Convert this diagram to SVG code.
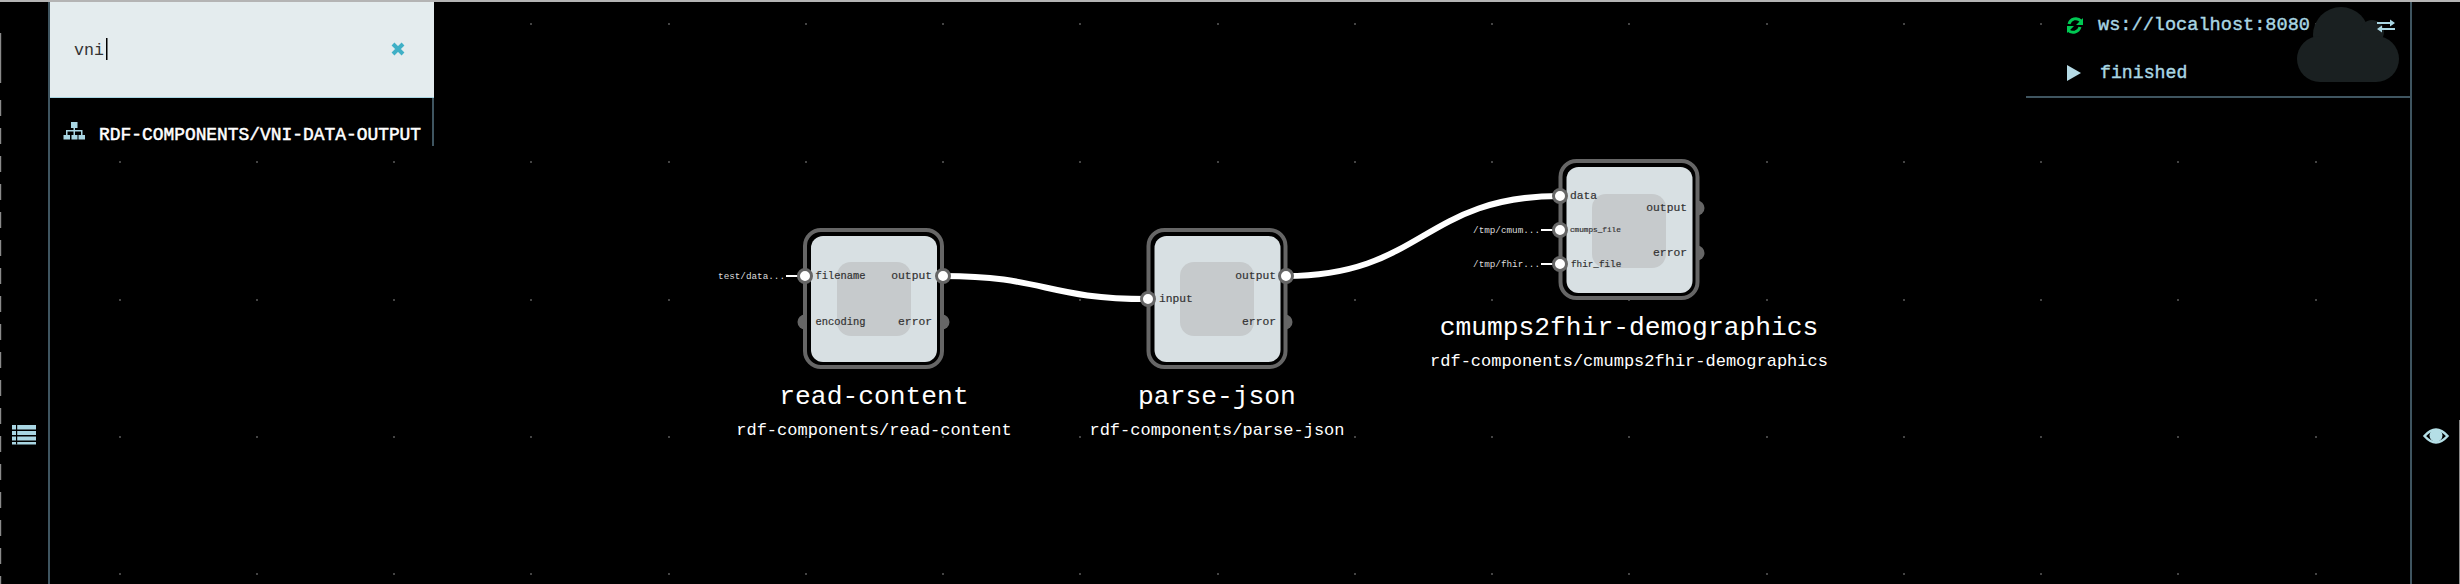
<svg xmlns="http://www.w3.org/2000/svg" width="2460" height="584" viewBox="0 0 2460 584">
<style>
text{font-family:"Liberation Mono","DejaVu Sans Mono",monospace}
.ring{fill:#000;stroke:#666;stroke-width:4}
.body{fill:#d8e0e3}
.core{fill:#c6cacc}
.off{fill:#666}
.pr{fill:#fff;stroke:#666;stroke-width:3}
.pl{fill:#333;font-size:11.3px;dominant-baseline:central;stroke:#333;stroke-width:.2}
.end{text-anchor:end}
.arg{fill:#ddd;font-size:9.3px;dominant-baseline:central;text-anchor:end}
.wire{fill:none;stroke:#fff;stroke-width:6}
.lit{fill:none;stroke:#fff;stroke-width:2}
.t{fill:#fff;font-size:26.3px;text-anchor:middle}
.s{fill:#fff;font-size:17px;text-anchor:middle}
.ui{fill:#a9d6e3}
.bar{fill:#3f5560}
.st{fill:#a9d6e3;font-size:18.6px;stroke:#a9d6e3;stroke-width:.4}
.edge{fill:#b4b4b4}
</style>
<defs>
<g id="dotrow">
<rect x="119" y="0" width="2" height="2"/><rect x="256" y="0" width="2" height="2"/><rect x="393" y="0" width="2" height="2"/><rect x="530" y="0" width="2" height="2"/><rect x="668" y="0" width="2" height="2"/><rect x="805" y="0" width="2" height="2"/><rect x="942" y="0" width="2" height="2"/><rect x="1079" y="0" width="2" height="2"/><rect x="1217" y="0" width="2" height="2"/><rect x="1354" y="0" width="2" height="2"/><rect x="1491" y="0" width="2" height="2"/><rect x="1628" y="0" width="2" height="2"/><rect x="1766" y="0" width="2" height="2"/><rect x="1903" y="0" width="2" height="2"/><rect x="2040" y="0" width="2" height="2"/><rect x="2177" y="0" width="2" height="2"/><rect x="2315" y="0" width="2" height="2"/>
</g>
</defs>
<rect width="2460" height="584" fill="#000"/>
<g id="grid" fill="#444">
<use href="#dotrow" y="23"/><use href="#dotrow" y="161"/><use href="#dotrow" y="299"/><use href="#dotrow" y="436"/><use href="#dotrow" y="573"/>
</g>
<g id="frame">
<rect class="edge" x="0" y="0" width="2460" height="2"/>
<path fill="none" stroke="#8a8a8a" stroke-width="1.200" stroke-dasharray="16 12" d="M.6 100V584"/>
<rect x="0" y="33" width="1.200" height="50" fill="#8a8a8a"/>
<rect x="2459" y="420" width="1" height="164" fill="#8a8a8a"/>
<rect class="bar" x="48" y="2" width="2" height="582"/>
<rect class="bar" x="2410" y="2" width="2" height="582"/>
<rect class="bar" x="2026" y="96" width="384" height="2"/>
<rect class="bar" x="432" y="98" width="2" height="48"/>
</g>
<g id="search">
<rect x="50" y="2" width="384" height="95" fill="#e4ecee"/>
<rect x="50" y="97" width="384" height="1" fill="#a9d6e3"/>
<text x="74" y="55" font-size="16.6" fill="#333">vni</text>
<rect x="106" y="38" width="1.5" height="22" fill="#000"/>
<path d="M393 44L403 54M403 44L393 54" stroke="#3fb0c6" stroke-width="4" fill="none"/>
</g>
<g id="result">
<path class="ui" d="M71 122h6.500v6h-2.500v2h7.500v5h-1.500v-3.500h-6v3.500h-1.500v-3.500h-6v3.500h-1.500v-5h7.500v-2h-2.500z"/>
<rect class="ui" x="63.500" y="135" width="6.500" height="4.500"/><rect class="ui" x="71.500" y="135" width="6" height="4.500"/><rect class="ui" x="78.500" y="135" width="6.500" height="4.500"/>
<text x="99" y="140" font-size="17.900" fill="#fff" stroke="#fff" stroke-width=".5">RDF-COMPONENTS/VNI-DATA-OUTPUT</text>
</g>
<g id="status">
<g fill="#1a2021">
<circle cx="2341" cy="35" r="28"/><circle cx="2372" cy="32" r="12"/><circle cx="2320" cy="59" r="23"/><circle cx="2376" cy="59" r="23"/><rect x="2320" y="36" width="56" height="46"/>
</g>
<path d="M2069 24a7 7 0 0 1 12-3M2080 27a7 7 0 0 1-12 3" fill="none" stroke="#00c853" stroke-width="3"/>
<path d="M2083 18v7h-7zM2067 33v-7h7z" fill="#00c853"/>
<text class="st" x="2098" y="30">ws://localhost:8080</text>
<path d="M2067 65l14 8-14 8z" fill="#b5dbe6"/>
<text class="st" x="2100" y="78" style="font-size:18.2px">finished</text>
<path class="ui" d="M2377 22h13v-2.500l5 3.500-5 3.500v-2.500h-13zM2395 28h-13v-2.500l-5 3.500 5 3.500v-2.500h13z"/>
</g>
<g id="list-toggle">
<path class="ui" d="M12 425h24v4.500h-24zM12 431h24v4h-24zM12 436.500h24v4h-24zM12 442h24v2.500h-24z"/>
<rect x="16" y="425" width="1.200" height="19.500" fill="#000"/>
</g>
<g id="eye-toggle">
<path d="M2424.500 436q11.500-13 23 0q-11.500 13-23 0z" fill="none" stroke="#b5dfe6" stroke-width="2.500"/>
<circle cx="2436" cy="435.500" r="6.500" fill="#b5dfe6"/>
</g>
<g id="connectors">
<path class="wire" d="M943 276C1045 276 1046 299 1148 299"/>
<path class="wire" d="M1286 276C1423 276 1423 196 1560 196"/>
<path class="lit" d="M786 276H805"/>
<path class="lit" d="M1541 230H1560"/>
<path class="lit" d="M1541 264H1560"/>
</g>
<g id="read-content">
<circle class="off" cx="805" cy="322" r="7.500"/><circle class="off" cx="942" cy="322" r="7.500"/>
<rect class="ring" x="805" y="230" width="137" height="137" rx="16"/>
<rect class="body" x="811" y="236" width="126" height="126" rx="12"/>
<rect class="core" x="837" y="262" width="74" height="74" rx="14"/>
<circle class="pr" cx="805" cy="276" r="6.500"/><circle class="pr" cx="943" cy="276" r="6.500"/>
<text class="arg" x="785" y="276">test/data...</text>
<text class="pl" x="815.500" y="276" style="font-size:10.400px">filename</text>
<text class="pl" x="815.500" y="322" style="font-size:10.400px">encoding</text>
<text class="pl end" x="932" y="276">output</text>
<text class="pl end" x="932" y="322">error</text>
<text class="t" x="874" y="404">read-content</text>
<text class="s" x="874" y="435">rdf-components/read-content</text>
</g>
<g id="parse-json">
<circle class="off" cx="1285" cy="322" r="7.500"/>
<rect class="ring" x="1148.500" y="230" width="137" height="137" rx="16"/>
<rect class="body" x="1154.500" y="236" width="126" height="126" rx="12"/>
<rect class="core" x="1180" y="262" width="74" height="74" rx="14"/>
<circle class="pr" cx="1148" cy="299" r="6.500"/><circle class="pr" cx="1286" cy="276" r="6.500"/>
<text class="pl" x="1159" y="299">input</text>
<text class="pl end" x="1276" y="276">output</text>
<text class="pl end" x="1276" y="322">error</text>
<text class="t" x="1217" y="404">parse-json</text>
<text class="s" x="1217" y="435">rdf-components/parse-json</text>
</g>
<g id="cmumps2fhir-demographics">
<circle class="off" cx="1697" cy="208" r="7.500"/><circle class="off" cx="1697" cy="253" r="7.500"/>
<rect class="ring" x="1560.500" y="161" width="137" height="137" rx="16"/>
<rect class="body" x="1566.500" y="167" width="126" height="126" rx="12"/>
<rect class="core" x="1592" y="194" width="74" height="74" rx="14"/>
<circle class="pr" cx="1560" cy="196" r="6.500"/><circle class="pr" cx="1560" cy="230" r="6.500"/><circle class="pr" cx="1560" cy="264" r="6.500"/>
<text class="arg" x="1540" y="230">/tmp/cmum...</text>
<text class="arg" x="1540" y="264">/tmp/fhir...</text>
<text class="pl" x="1570" y="196">data</text>
<text class="pl" x="1570" y="230" style="font-size:7.700px">cmumps_file</text>
<text class="pl" x="1571" y="264" style="font-size:9.300px">fhir_file</text>
<text class="pl end" x="1687" y="208">output</text>
<text class="pl end" x="1687" y="253">error</text>
<text class="t" x="1629" y="335">cmumps2fhir-demographics</text>
<text class="s" x="1629" y="366">rdf-components/cmumps2fhir-demographics</text>
</g>
</svg>
